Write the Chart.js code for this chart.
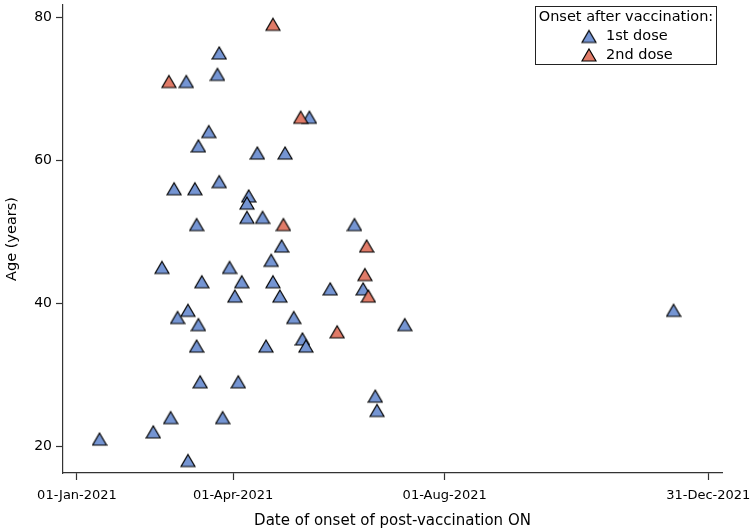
<!DOCTYPE html>
<html>
<head>
<meta charset="utf-8">
<title>Onset after vaccination</title>
<script src="https://cdn.jsdelivr.net/npm/chart.js@4.4.1/dist/chart.umd.min.js"></script>
<style>
  html, body { margin: 0; padding: 0; background: #fff; }
  #wrap { width: 750px; height: 532px; }
</style>
</head>
<body>
<div id="wrap"><canvas id="onsetchart"></canvas></div>
<script>
// onset date and age, one entry per case
const dose1Dates = [
    '2021-01-14', '2021-02-14', '2021-02-24', '2021-03-06', '2021-02-19', '2021-03-30',
    '2021-03-14', '2021-04-06', '2021-04-02', '2021-03-06', '2021-02-28', '2021-03-12',
    '2021-03-11', '2021-03-13', '2021-04-04', '2021-03-26', '2021-03-05', '2021-03-24',
    '2021-03-23', '2021-03-18', '2021-03-12', '2021-02-26', '2021-03-10', '2021-03-24',
    '2021-04-10', '2021-04-09', '2021-04-09', '2021-04-18', '2021-03-11', '2021-05-15',
    '2021-04-15', '2021-05-01', '2021-06-10', '2021-04-29', '2021-04-23', '2021-04-24',
    '2021-05-27', '2021-06-15', '2021-04-28', '2021-05-06', '2021-07-09', '2021-05-11',
    '2021-05-13', '2021-04-20', '2021-06-22', '2021-06-23', '2021-12-11'
];
const dose1Ages = [
    21, 22, 24, 18, 45, 45,
    43, 43, 41, 39, 38, 37,
    34, 29, 29, 24, 71, 75,
    72, 64, 62, 56, 56, 57,
    55, 54, 52, 52, 51, 66,
    61, 61, 51, 48, 46, 43,
    42, 42, 41, 38, 37, 35,
    34, 34, 27, 25, 39
];
const dose2Dates = [
    '2021-02-23', '2021-04-24', '2021-05-10', '2021-04-30',
    '2021-06-17', '2021-06-16', '2021-06-18', '2021-05-31'
];
const dose2Ages = [71, 79, 66, 51, 48, 44, 41, 36];

const seriesNames = ['1st dose', '2nd dose'];
const xTickDates = ['2021-01-01', '2021-04-01', '2021-08-01', '2021-12-31'];
const yTicks = [20, 40, 60, 80];

const DAY = 86400000;
const start = Date.parse('2021-01-01');
const monthNames = ['Jan', 'Feb', 'Mar', 'Apr', 'May', 'Jun', 'Jul', 'Aug', 'Sep', 'Oct', 'Nov', 'Dec'];

function dayOf(s) {
    return (Date.parse(s) - start) / DAY;
}

function fmtDay(d) {
    const dt = new Date(start + d * DAY);
    return String(dt.getUTCDate()).padStart(2, '0') + '-' + monthNames[dt.getUTCMonth()] + '-' + dt.getUTCFullYear();
}

function toPoints(dates, ages) {
    return dates.map((d, i) => ({ x: dayOf(d), y: ages[i] }));
}

// SAS style filled triangle, centred on its bounding box
function triangle(fill) {
    const c = document.createElement('canvas');
    c.width = 16;
    c.height = 16;
    const ctx = c.getContext('2d');
    ctx.beginPath();
    ctx.moveTo(8, 2);
    ctx.lineTo(15, 14);
    ctx.lineTo(1, 14);
    ctx.closePath();
    ctx.fillStyle = fill;
    ctx.fill();
    ctx.lineWidth = 1.2;
    ctx.strokeStyle = '#000';
    ctx.stroke();
    return c;
}

const blueMark = triangle('#7595d3');
const redMark = triangle('#e07b68');

const axisColor = '#333';
const font = 'DejaVu Sans';

const legendBox = {
    id: 'legendBox',
    afterDraw(chart) {
        const ctx = chart.ctx;
        ctx.save();
        ctx.strokeStyle = '#222';
        ctx.lineWidth = 1;
        ctx.strokeRect(535.5, 6.5, 181, 58);
        ctx.fillStyle = '#000';
        ctx.font = '14.5px "' + font + '"';
        ctx.textBaseline = 'middle';
        ctx.textAlign = 'center';
        ctx.fillText('Onset after vaccination:', 626, 17);
        ctx.textAlign = 'left';
        chart.data.datasets.forEach((ds, i) => {
            const y = 36.5 + i * 18.5;
            ctx.drawImage(ds.pointStyle, 581, y - 8);
            ctx.fillText(ds.label, 606, y);
        });
        ctx.restore();
    }
};

const config = {
    type: 'scatter',
    data: {
        datasets: [{
            label: seriesNames[0],
            data: toPoints(dose1Dates, dose1Ages),
            pointStyle: blueMark,
            order: 1
        }, {
            label: seriesNames[1],
            data: toPoints(dose2Dates, dose2Ages),
            pointStyle: redMark,
            order: 0
        }]
    },
    options: {
        responsive: true,
        maintainAspectRatio: false,
        animation: false,
        events: [],
        layout: {
            padding: { top: 1, right: 28, left: 0, bottom: 0 }
        },
        plugins: {
            legend: { display: false },
            tooltip: { enabled: false }
        },
        scales: {
            x: {
                type: 'linear',
                min: -8.07,
                max: 371.9,
                afterFit: (scale) => {
                    scale.height = 59;
                    scale.paddingLeft = 0;
                    scale.paddingRight = 0;
                },
                afterBuildTicks: (scale) => {
                    scale.ticks = xTickDates.map(d => ({ value: dayOf(d) }));
                },
                border: { display: true, color: axisColor, width: 1.2 },
                grid: { drawOnChartArea: false, drawTicks: true, tickLength: 7, color: axisColor, tickWidth: 1.2 },
                ticks: {
                    autoSkip: false,
                    maxRotation: 0,
                    padding: 8,
                    color: '#000',
                    font: { family: font, size: 13 },
                    callback: (v) => fmtDay(v)
                },
                title: {
                    display: true,
                    text: 'Date of onset of post-vaccination ON',
                    color: '#000',
                    font: { family: font, size: 15 },
                    padding: { top: 0, bottom: 2 }
                }
            },
            y: {
                min: 16.256,
                max: 81.706,
                afterFit: (scale) => {
                    scale.width = 63;
                    scale.paddingTop = 0;
                    scale.paddingBottom = 0;
                },
                afterBuildTicks: (scale) => {
                    scale.ticks = yTicks.map(v => ({ value: v }));
                },
                border: { display: true, color: axisColor, width: 1.2 },
                grid: { drawOnChartArea: false, drawTicks: true, tickLength: 7, color: axisColor, tickWidth: 1.2 },
                ticks: {
                    padding: 4,
                    color: '#000',
                    font: { family: font, size: 14 }
                },
                title: {
                    display: true,
                    text: 'Age (years)',
                    color: '#000',
                    font: { family: font, size: 14.5 },
                    padding: { top: 4, bottom: 0 }
                }
            }
        }
    },
    plugins: [legendBox]
};

new Chart(document.getElementById('onsetchart'), config);
</script>
</body>
</html>
